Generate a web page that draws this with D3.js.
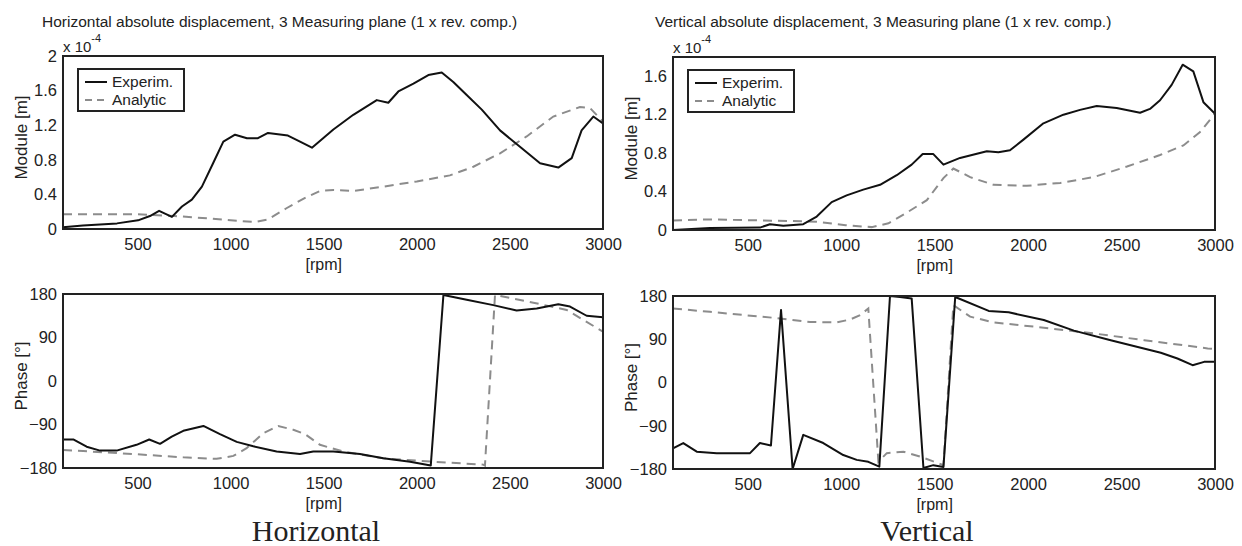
<!DOCTYPE html>
<html><head><meta charset="utf-8">
<script src="https://cdn.jsdelivr.net/npm/d3@7"></script>
<style>html,body{margin:0;padding:0;background:#fff;}svg{display:block;}</style>
</head><body>
<svg id="chart" width="1242" height="546"></svg>
<script>
// ---------- DATA ----------
const xTicks = [500, 1000, 1500, 2000, 2500, 3000];
const modTicksH = [0, 0.4, 0.8, 1.2, 1.6, 2];
const modTicksV = [0, 0.4, 0.8, 1.2, 1.6];
const phaseTicks = [-180, -90, 0, 90, 180];
const seriesNames = ["Experim.", "Analytic"];
const titles = ["Horizontal absolute displacement, 3 Measuring plane (1 x rev. comp.)",
                "Vertical absolute displacement, 3 Measuring plane (1 x rev. comp.)"];
const captions = ["Horizontal", "Vertical"];

// Horizontal - module (x 1e-4 m)
const hModExpRpm = [100,207,390,503,567,616,685,739,792,846,906,961,1024,1088,1147,1201,1308,1373,1437,1552,1659,1785,1847,1901,1982,2062,2134,2196,2268,2349,2447,2554,2662,2760,2832,2885,2948,3000];
const hModExp    = [0.02,0.04,0.065,0.10,0.15,0.21,0.14,0.26,0.34,0.49,0.76,1.01,1.09,1.05,1.05,1.11,1.08,1.01,0.94,1.15,1.32,1.49,1.46,1.59,1.68,1.78,1.81,1.70,1.55,1.38,1.14,0.95,0.76,0.71,0.82,1.14,1.30,1.22];
const hModAnaRpm = [100,300,500,700,900,1000,1130,1200,1300,1400,1480,1552,1659,1820,2000,2178,2304,2447,2590,2733,2876,2930,3000];
const hModAna    = [0.17,0.17,0.17,0.15,0.12,0.10,0.08,0.11,0.24,0.36,0.44,0.45,0.44,0.49,0.55,0.62,0.72,0.875,1.07,1.30,1.41,1.40,1.24];

// Vertical - module (x 1e-4 m)
const vModExpRpm = [100,298,565,619,690,797,869,949,1029,1118,1208,1297,1377,1436,1493,1547,1636,1779,1841,1903,1975,2082,2189,2278,2367,2474,2599,2652,2706,2768,2827,2884,2938,3000];
const vModExp    = [0.0,0.02,0.025,0.06,0.045,0.06,0.14,0.29,0.36,0.42,0.47,0.57,0.68,0.79,0.79,0.68,0.75,0.82,0.81,0.83,0.94,1.11,1.20,1.25,1.29,1.27,1.22,1.26,1.35,1.51,1.72,1.65,1.33,1.21];
const vModAnaRpm = [100,300,560,869,1024,1163,1253,1342,1458,1547,1600,1690,1815,1993,2172,2350,2529,2706,2831,2920,3000];
const vModAna    = [0.10,0.11,0.10,0.087,0.05,0.03,0.07,0.17,0.31,0.54,0.64,0.55,0.47,0.46,0.49,0.55,0.66,0.78,0.88,1.02,1.21];

// Horizontal - phase (deg)
const hPhExpRpm = [100,155,227,299,388,495,563,621,684,746,854,943,1033,1122,1247,1373,1444,1552,1695,1820,1964,2075,2143,2268,2411,2536,2644,2760,2823,2912,3000];
const hPhExp    = [-121,-121,-136,-144,-144,-132,-121,-130,-115,-103,-93,-110,-126,-135,-146,-151,-146,-146,-151,-160,-167,-175,178,168,157,146,150,159,154,135,132];
const hPhAnaRpm = [100,209,477,746,925,1015,1086,1176,1256,1337,1400,1480,1606,1820,2089,2357,2366,2420,2626,2805,3000];
const hPhAna    = [-143,-145,-151,-158,-161,-155,-139,-108,-93,-101,-110,-132,-146,-160,-167,-173,-175,178,162,147,102];

// Vertical - phase (deg)
const vPhExpRpm = [100,155,227,334,512,565,624,678,740,797,904,1011,1083,1145,1204,1261,1315,1377,1440,1493,1547,1610,1789,1896,2084,2245,2442,2710,2799,2880,2942,3000];
const vPhExp    = [-137,-126,-144,-147,-147,-126,-131,151,-180,-109,-126,-151,-161,-165,-175,180,178,175,-178,-172,-176,178,149,146,130,108,88,62,50,36,43,43];
const vPhAnaRpm = [100,298,655,833,976,1047,1101,1145,1199,1244,1333,1422,1547,1600,1690,1815,2084,2353,2621,2961,3000];
const vPhAna    = [154,147,134,126,125,131,140,154,-165,-147,-144,-154,-172,161,137,125,114,102,88,71,70];

// ---------- DRAW ----------
const svg = d3.select("#chart");
const FONT = "'Liberation Sans', Arial, Helvetica, sans-serif";
const TXT = "#222";
const EXP_COLOR = "#111";
const ANA_COLOR = "#8c8c8c";

const zip = (xs, ys) => xs.map((x, i) => [x, ys[i]]);

const panels = [
  {id:"hm", box:{l:63, r:603, t:56, b:229}, y:[0,2], ticks:modTicksH, fmt:d3.format("~g"), ylabel:"Module [m]",
   exp:zip(hModExpRpm,hModExp), ana:zip(hModAnaRpm,hModAna), legend:true, exponent:true},
  {id:"vm", box:{l:673, r:1215, t:57, b:230}, y:[0,1.8], ticks:modTicksV, fmt:d3.format("~g"), ylabel:"Module [m]",
   exp:zip(vModExpRpm,vModExp), ana:zip(vModAnaRpm,vModAna), legend:true, exponent:true},
  {id:"hp", box:{l:63, r:603, t:294, b:468}, y:[-180,180], ticks:phaseTicks, fmt:d3.format("d"), ylabel:"Phase [°]",
   exp:zip(hPhExpRpm,hPhExp), ana:zip(hPhAnaRpm,hPhAna)},
  {id:"vp", box:{l:673, r:1215, t:296, b:469}, y:[-180,180], ticks:phaseTicks, fmt:d3.format("d"), ylabel:"Phase [°]",
   exp:zip(vPhExpRpm,vPhExp), ana:zip(vPhAnaRpm,vPhAna)}
];

const defs = svg.append("defs");

panels.forEach(p => {
  const {l, r, t, b} = p.box;
  const x = d3.scaleLinear().domain([100, 3000]).range([l, r]);
  const y = d3.scaleLinear().domain(p.y).range([b, t]);

  defs.append("clipPath").attr("id", "clip-" + p.id)
    .append("rect").attr("x", l).attr("y", t - 1).attr("width", r - l).attr("height", b - t + 2);

  // x axis labels
  const xa = svg.append("g").attr("transform", `translate(0,${b})`)
    .call(d3.axisBottom(x).tickValues(xTicks).tickSize(0).tickPadding(9).tickFormat(d3.format("d")));
  xa.select(".domain").remove();
  xa.selectAll("text").attr("font-family", FONT).attr("font-size", 16.5).attr("fill", TXT);

  // y axis labels
  const ya = svg.append("g").attr("transform", `translate(${l},0)`)
    .call(d3.axisLeft(y).tickValues(p.ticks).tickSize(0).tickPadding(6).tickFormat(p.fmt));
  ya.select(".domain").remove();
  ya.selectAll("text").attr("font-family", FONT).attr("font-size", 16.5).attr("fill", TXT);

  // [rpm]
  svg.append("text").attr("x", x(1500)).attr("y", b + 41).attr("text-anchor", "middle")
    .attr("font-family", FONT).attr("font-size", 16).attr("fill", TXT).text("[rpm]");

  // y label
  svg.append("text")
    .attr("transform", `translate(${l - 36},${(t + b) / 2 - 5}) rotate(-90)`)
    .attr("text-anchor", "middle").attr("font-family", FONT).attr("font-size", 17).attr("fill", TXT)
    .text(p.ylabel);

  // lines
  const line = d3.line().x(d => x(d[0])).y(d => y(d[1]));
  const g = svg.append("g").attr("clip-path", `url(#clip-${p.id})`);
  g.append("path").datum(p.ana).attr("d", line).attr("fill", "none")
    .attr("stroke", ANA_COLOR).attr("stroke-width", 2).attr("stroke-dasharray", "9,6");
  g.append("path").datum(p.exp).attr("d", line).attr("fill", "none")
    .attr("stroke", EXP_COLOR).attr("stroke-width", 2).attr("stroke-linejoin", "round");

  // frame
  svg.append("rect").attr("x", l).attr("y", t).attr("width", r - l).attr("height", b - t)
    .attr("fill", "none").attr("stroke", "#222").attr("stroke-width", 2);

  if (p.exponent) {
    const e = svg.append("text").attr("x", l).attr("y", t - 4)
      .attr("font-family", FONT).attr("font-size", 15).attr("fill", TXT);
    e.append("tspan").text("x 10");
    e.append("tspan").attr("dy", -10).attr("font-size", 11).text("-4");
  }

  if (p.legend) {
    const lx = l + 15, ly = t + 13, lw = 106, lh = 42;
    const lg = svg.append("g");
    lg.append("rect").attr("x", lx).attr("y", ly).attr("width", lw).attr("height", lh)
      .attr("fill", "#fff").attr("stroke", "#222").attr("stroke-width", 2);
    const items = [{name: seriesNames[0], c: EXP_COLOR, dash: null},
                   {name: seriesNames[1], c: ANA_COLOR, dash: "7,5"}];
    items.forEach((it, i) => {
      const yy = ly + 13 + i * 18;
      lg.append("line").attr("x1", lx + 7).attr("x2", lx + 29).attr("y1", yy).attr("y2", yy)
        .attr("stroke", it.c).attr("stroke-width", 2).attr("stroke-dasharray", it.dash);
      lg.append("text").attr("x", lx + 34).attr("y", yy + 5)
        .attr("font-family", FONT).attr("font-size", 15.5).attr("fill", TXT).text(it.name);
    });
  }
});

// titles
svg.append("text").attr("x", 42).attr("y", 27).attr("font-family", FONT).attr("font-size", 15.5)
  .attr("fill", TXT).text(titles[0]);
svg.append("text").attr("x", 655).attr("y", 27).attr("font-family", FONT).attr("font-size", 15.5)
  .attr("fill", TXT).text(titles[1]);

// captions
svg.append("text").attr("x", 316).attr("y", 541).attr("text-anchor", "middle")
  .attr("font-family", "'Liberation Serif', 'Times New Roman', serif").attr("font-size", 30).attr("fill", "#222")
  .text(captions[0]);
svg.append("text").attr("x", 927).attr("y", 541).attr("text-anchor", "middle")
  .attr("font-family", "'Liberation Serif', 'Times New Roman', serif").attr("font-size", 30).attr("fill", "#222")
  .text(captions[1]);
</script>
</body></html>
